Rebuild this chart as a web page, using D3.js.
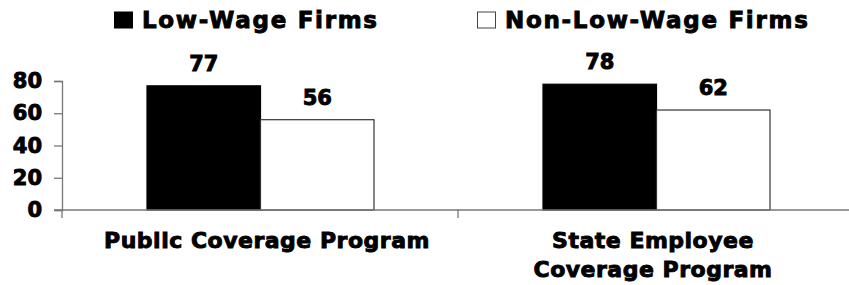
<!DOCTYPE html>
<html><head><meta charset="utf-8">
<script src="https://cdn.jsdelivr.net/npm/d3@7"></script>
<style>
html,body{margin:0;padding:0;background:#fff;}
text{font-family:"DejaVu Sans",sans-serif;font-weight:bold;fill:#000;stroke:#000;stroke-width:0.9px;}
</style></head><body>
<svg id="chart" width="849" height="285"></svg>
<script>
const categories = [["Public Coverage Program"], ["State Employee", "Coverage Program"]];
const seriesNames = ["Low-Wage Firms", "Non-Low-Wage Firms"];
const lowWage = [77, 78];
const nonLowWage = [56, 62];
const yTicks = [0, 20, 40, 60, 80];
const seriesColors = ["#000000", "#ffffff"];

const svg = d3.select("#chart");
const x0 = 62, x1 = 854, yBase = 210, yTop = 81;
const y = d3.scaleLinear().domain([0, 80]).range([yBase, yTop]);
const x = d3.scaleBand().domain(d3.range(categories.length)).range([x0, x1]);
const xs = d3.scaleBand().domain(d3.range(seriesNames.length)).range([85, 85 + 227]);

const rows = categories.map((c, i) => ({i, vals: [lowWage[i], nonLowWage[i]]}));

// bars
const g = svg.selectAll("g.cat").data(rows).join("g").attr("class","cat")
  .attr("transform", d => `translate(${x(d.i)},0)`);
g.selectAll("rect").data(d => d.vals.map((v, s) => ({v, s}))).join("rect")
  .attr("x", d => xs(d.s)).attr("width", xs.bandwidth())
  .attr("y", d => y(d.v)).attr("height", d => yBase - y(d.v))
  .attr("fill", d => seriesColors[d.s])
  .attr("stroke", d => d.s === 0 ? "#000" : "#333").attr("stroke-width", 1.2);
g.selectAll("text.val").data(d => d.vals.map((v, s) => ({v, s}))).join("text").attr("class","val")
  .attr("x", d => xs(d.s) + xs.bandwidth()/2).attr("y", d => y(d.v) - 15)
  .attr("text-anchor","middle").style("font-size","21px").text(d => d.v);

// y axis
const yAxis = svg.append("g").attr("transform", `translate(${x0},0)`)
  .call(d3.axisLeft(y).tickValues(yTicks).tickSize(8).tickPadding(12).tickFormat(d3.format("d")));
yAxis.select(".domain").attr("stroke","#777").attr("stroke-width",1.3);
yAxis.selectAll(".tick line").attr("stroke","#777").attr("stroke-width",1.3);
yAxis.selectAll(".tick text").style("font-size","21px").attr("font-family",null).attr("fill","#000");

// x axis
svg.append("line").attr("x1", x0 - 8).attr("x2", 849).attr("y1", yBase).attr("y2", yBase)
  .attr("stroke","#777").attr("stroke-width",1.3);
svg.selectAll("line.xt").data(d3.range(categories.length + 1)).join("line").attr("class","xt")
  .attr("x1", d => x0 + d * x.bandwidth()).attr("x2", d => x0 + d * x.bandwidth())
  .attr("y1", yBase).attr("y2", yBase + 8).attr("stroke","#777").attr("stroke-width",1.3);

// x labels
categories.forEach((lines, i) => {
  const cx = x(i) + x.bandwidth()/2 + (lines.length === 1 ? 7 : -3);
  const t = svg.append("text").attr("text-anchor","middle").style("font-size","22px")
    .style("letter-spacing","0.5px").attr("x", cx).attr("y", 248);
  lines.forEach((l, j) => t.append("tspan").attr("x", cx).attr("dy", j ? 28.5 : 0).text(l));
});

// legend
const legendPos = [114, 477];
seriesNames.forEach((n, i) => {
  svg.append("rect").attr("x", legendPos[i] + 0.5).attr("y", 12).attr("width", 18).attr("height", 16)
    .attr("fill", seriesColors[i]).attr("stroke", i ? "#444" : "#000").attr("stroke-width", 1);
  svg.append("text").attr("x", legendPos[i] + 28).attr("y", 28).style("font-size","23px")
    .style("letter-spacing","1.7px").text(n);
});
</script></body></html>
